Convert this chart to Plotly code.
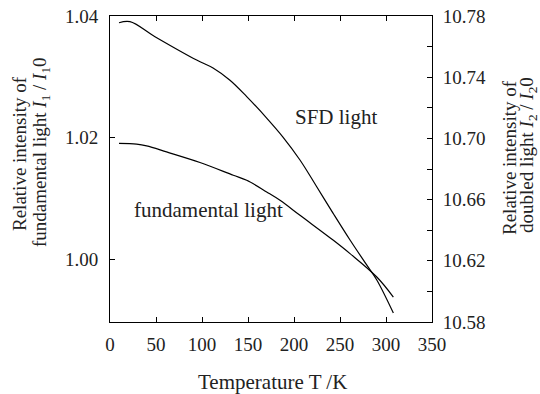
import plotly.graph_objects as go

# SFD (doubled) light, right axis
sfd_T = [9.8, 21.7, 48.9, 94.2, 112, 130.4, 148.6, 170.3, 188, 206.5, 224.7, 242.4, 260.9, 279, 290, 308]
sfd_I = [10.7756, 10.7763, 10.7665, 10.7512, 10.746, 10.738, 10.7273, 10.7133, 10.7009, 10.6859,
         10.6684, 10.6512, 10.6336, 10.6173, 10.6075, 10.5859]

# fundamental light, left axis
fund_T = [9.8, 28.9, 39.8, 61.5, 97.8, 134, 148.6, 170.3, 184.8, 206.5, 242.8, 260.9, 290, 308]
fund_I = [1.01905, 1.01893, 1.01865, 1.01766, 1.01592, 1.01383, 1.01300, 1.01108, 1.00971,
          1.00724, 1.00313, 1.00094, 0.99709, 0.99380]

x_ticks = [0, 50, 100, 150, 200, 250, 300, 350]
left_ticks = [1.00, 1.02, 1.04]
right_ticks = [10.58, 10.62, 10.66, 10.70, 10.74, 10.78]

FONT = "Liberation Serif"
COL = "#222"

# plot area in pixels
L, R, T, B = 110, 432, 16, 322
W, H = 540, 394
PW, PH = R - L, B - T

fig = go.Figure()
fig.add_trace(go.Scatter(x=fund_T, y=fund_I, mode="lines", line=dict(color="black", width=1.2, shape="spline"),
                         yaxis="y", showlegend=False))
fig.add_trace(go.Scatter(x=sfd_T, y=sfd_I, mode="lines", line=dict(color="black", width=1.2, shape="spline"),
                         yaxis="y2", showlegend=False))

axis_common = dict(showgrid=False, zeroline=False, showline=True, linecolor="black", linewidth=1,
                   ticks="inside", ticklen=5, tickcolor="black", automargin=False,
                   tickfont=dict(family=FONT, size=19, color=COL))

fig.update_layout(
    width=W, height=H,
    margin=dict(l=L, r=W - R, t=T, b=H - B, autoexpand=False),
    paper_bgcolor="white", plot_bgcolor="white",
    font=dict(family=FONT, size=19, color=COL),
    xaxis=dict(range=[0, 350], tickvals=x_ticks, mirror="ticks", ticklabelstandoff=5, **axis_common),
    yaxis=dict(range=[0.9897, 1.04], tickvals=left_ticks, tickformat=".2f", ticklabelstandoff=7, **axis_common),
    yaxis2=dict(range=[10.58, 10.78], tickvals=right_ticks, tickformat=".2f", overlaying="y", side="right",
                ticklabelstandoff=6,
                minor=dict(dtick=0.02, tick0=10.58, ticks="inside", ticklen=5, tickcolor="black"),
                **axis_common),
)


def px_x(px):
    return (px - L) / PW


def px_y(py):
    return (B - py) / PH


def label(text, px, py, size, angle=0):
    fig.add_annotation(text=text, xref="paper", yref="paper", x=px_x(px), y=px_y(py),
                       xanchor="center", yanchor="middle", textangle=angle, showarrow=False,
                       font=dict(family=FONT, size=size, color=COL))


label("SFD light", 336, 117, 21)
label("fundamental light", 208, 210, 21)
label("Temperature T /K", 272, 382, 21)

label("Relative intensity of", 20, 154, 19, -90)
label("fundamental light <i>I</i><sub>1</sub> / <i>I</i><sub>1</sub>0", 41, 152, 19, -90)
label("Relative intensity of", 509, 158, 19, -90)
label("doubled light <i>I</i><sub>2</sub> / <i>I</i><sub>2</sub>0", 528, 155, 19, -90)

fig.write_html("out.html", config={"displayModeBar": False},
               post_script="document.body.style.margin='0';document.body.style.overflow='hidden';")
